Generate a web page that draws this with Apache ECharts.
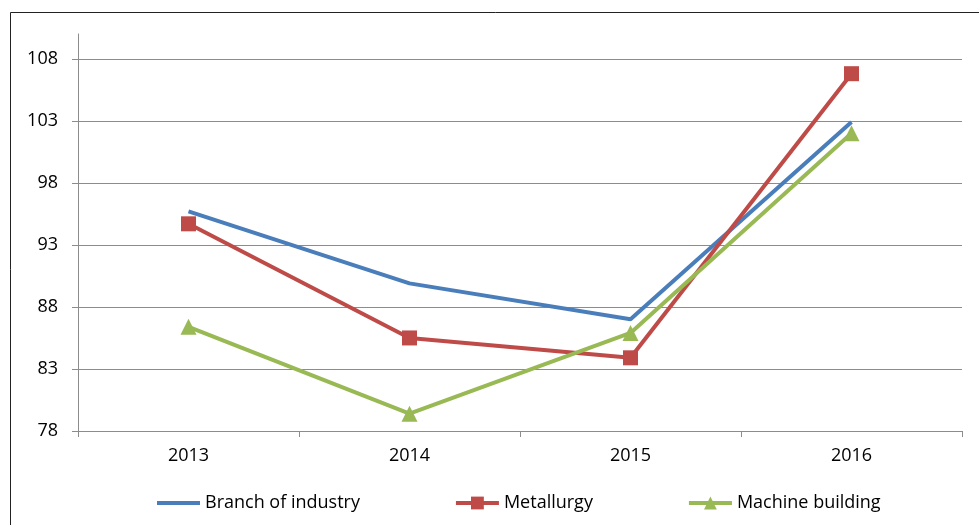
<!DOCTYPE html>
<html>
<head>
<meta charset="utf-8">
<script src="https://cdn.jsdelivr.net/npm/echarts@6/dist/echarts.min.js"></script>
<style>
    html, body {margin: 0; padding: 0; background: #fff;}
    #main {width: 979px; height: 525px;}
</style>
</head>
<body>
<div id="main"></div>
<script>
    var years = ['2013', '2014', '2015', '2016'];
    var branchOfIndustry = [95.7, 89.9, 87.0, 102.9];
    var metallurgy = [94.7, 85.5, 83.9, 106.8];
    var machineBuilding = [86.4, 79.4, 85.9, 102.0];

    var font = 'Open Sans';
    var gridColor = '#8c8c8c';

    (function (charts) {
        charts.setOption({
            animation: false,
            textStyle: {fontFamily: font},
            graphic: [{
                type: 'rect', left: 8, top: 10, z: -1,
                shape: {width: 1000, height: 600},
                style: {fill: 'none', stroke: '#222', lineWidth: 1}
            }],
            grid: {left: 78, right: 17, top: 34, bottom: 94},
            legend: {
                bottom: 8, left: 150,
                itemWidth: 43, itemHeight: 16, itemGap: 94,
                lineStyle: {width: 4},
                textStyle: {fontFamily: font, fontSize: 18, color: '#000'},
                data: [
                    {name: 'Branch of industry', itemStyle: {opacity: 0}},
                    'Metallurgy',
                    'Machine building'
                ]
            },
            xAxis: {
                type: 'category', data: years, boundaryGap: true,
                axisLine: {lineStyle: {color: gridColor, width: 1}},
                axisTick: {show: true, length: 6, lineStyle: {color: gridColor}},
                axisLabel: {fontSize: 18, color: '#000', margin: 16, fontFamily: font}
            },
            yAxis: {
                type: 'value', min: 78, max: 110, interval: 5,
                axisLine: {show: true, lineStyle: {color: gridColor, width: 1}},
                axisTick: {show: true, length: 6, lineStyle: {color: gridColor}},
                axisLabel: {fontSize: 18, color: '#000', margin: 20, fontFamily: font, showMaxLabel: false},
                splitLine: {show: true, showMaxLine: false, lineStyle: {color: gridColor, width: 1}}
            },
            series: [
                {
                    name: 'Branch of industry', type: 'line', data: branchOfIndustry,
                    symbol: 'none', lineStyle: {color: '#4a7ebb', width: 4},
                    itemStyle: {color: '#4a7ebb'}
                },
                {
                    name: 'Metallurgy', type: 'line', data: metallurgy,
                    symbol: 'rect', symbolSize: 15, lineStyle: {color: '#be4b48', width: 4},
                    itemStyle: {color: '#be4b48'}
                },
                {
                    name: 'Machine building', type: 'line', data: machineBuilding,
                    symbol: 'triangle', symbolSize: 16, lineStyle: {color: '#98b954', width: 4},
                    itemStyle: {color: '#98b954'}
                }
            ]
        });
    })(echarts.init(document.getElementById('main')));
</script>
</body>
</html>
